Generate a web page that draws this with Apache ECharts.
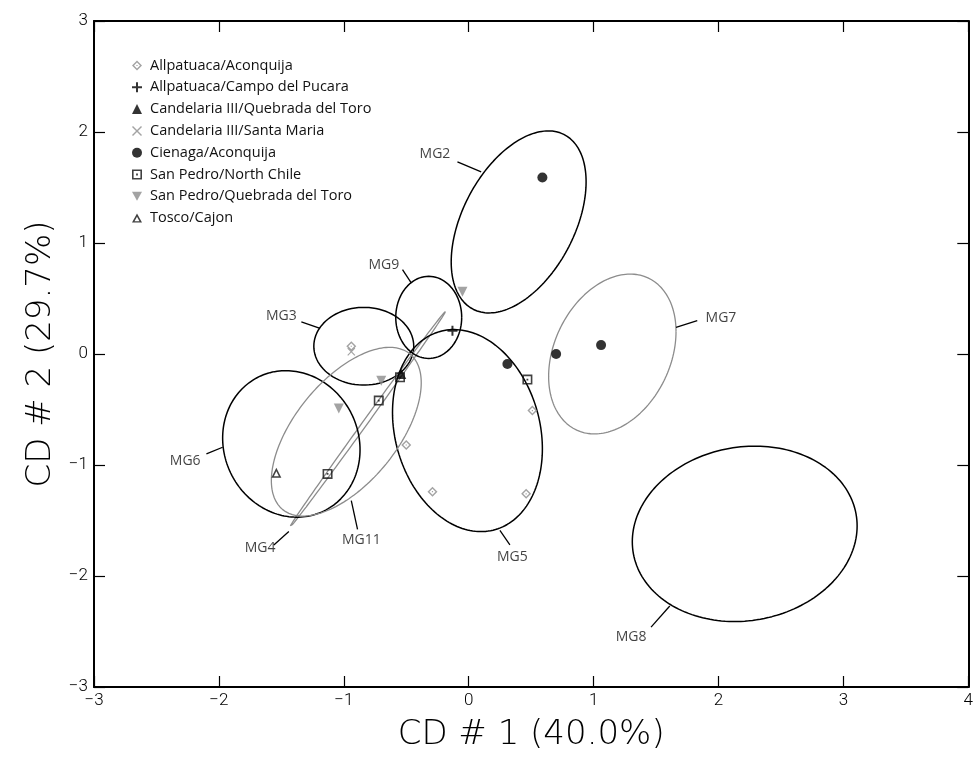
<!DOCTYPE html>
<html>
<head>
<meta charset="utf-8">
<script src="https://cdn.jsdelivr.net/npm/echarts@6/dist/echarts.min.js"></script>
<style>
  html, body { margin: 0; padding: 0; background: #fff; }
  #chart { width: 976px; height: 757px; }
</style>
</head>
<body>
<div id="chart"></div>
<script>
// group scores [CD1, CD2]
const allpatuacaAconquija = [[-0.94, 0.07], [0.51, -0.51], [-0.50, -0.82], [-0.29, -1.24], [0.46, -1.26]];
const allpatuacaPucara = [[-0.13, 0.21]];
const candelariaToro = [[-0.54, -0.18]];
const candelariaSantaMaria = [[-0.94, 0.02]];
const cienagaAconquija = [[0.59, 1.59], [0.31, -0.09], [0.70, 0.00], [1.06, 0.08]];
const sanPedroChile = [[-1.13, -1.08], [-0.72, -0.42], [-0.55, -0.21], [0.47, -0.23]];
const sanPedroToro = [[-1.04, -0.49], [-0.70, -0.24], [-0.05, 0.56]];
const toscoCajon = [[-1.54, -1.07]];

const groupNames = [
    'Allpatuaca/Aconquija',
    'Allpatuaca/Campo del Pucara',
    'Candelaria III/Quebrada del Toro',
    'Candelaria III/Santa Maria',
    'Cienaga/Aconquija',
    'San Pedro/North Chile',
    'San Pedro/Quebrada del Toro',
    'Tosco/Cajon'
];

// ellipses: centre, half extents on each axis, correlation
const ellipseNames = ['MG2', 'MG3', 'MG4', 'MG5', 'MG6', 'MG7', 'MG8', 'MG9', 'MG11'];
const ellipseCx = [0.40, -0.84, -0.81, -0.01, -1.42, 1.15, 2.21, -0.32, -0.98];
const ellipseCy = [1.19, 0.07, -0.59, -0.69, -0.81, 0.00, -1.62, 0.33, -0.70];
const ellipseW = [0.54, 0.40, 0.624, 0.60, 0.55, 0.51, 0.90, 0.264, 0.60];
const ellipseH = [0.82, 0.35, 0.973, 0.91, 0.66, 0.72, 0.79, 0.37, 0.76];
const ellipseR = [0.44, 0.0, 0.9993, -0.18, -0.08, 0.28, 0.09, 0.0, 0.58];
const ellipseGrey = [false, false, true, false, false, true, false, false, true];

// label text position and leader line (from, to)
const labelPos = [[-0.27, 1.80], [-1.50, 0.34], [-1.67, -1.75], [0.35, -1.83], [-2.27, -0.96], [2.02, 0.32], [1.30, -2.55], [-0.68, 0.80], [-0.86, -1.68]];
const leaderFrom = [[-0.09, 1.73], [-1.34, 0.29], [-1.56, -1.72], [0.33, -1.72], [-2.10, -0.90], [1.83, 0.30], [1.46, -2.46], [-0.53, 0.76], [-0.89, -1.58]];
const leaderTo = [[0.10, 1.64], [-1.19, 0.23], [-1.44, -1.60], [0.25, -1.59], [-1.97, -0.84], [1.66, 0.24], [1.61, -2.27], [-0.46, 0.64], [-0.94, -1.32]];

const GREY = '#8c8c8c';

const SYM_DIAMOND = 'path://M5,0L10,5L5,10L0,5Z M5,2L2,5L5,8L8,5Z M4.4,4.4L4.4,5.6L5.6,5.6L5.6,4.4Z';
const SYM_PLUS = 'path://M4,0H6V4H10V6H6V10H4V6H0V4H4Z';
const SYM_X = 'path://M0,1L1,0L5,4L9,0L10,1L6,5L10,9L9,10L5,6L1,10L0,9L4,5Z';
const SYM_SQUARE = 'path://M0,0H10V10H0Z M1.6,1.6V8.4H8.4V1.6Z M4.1,4.1H5.9V5.9H4.1Z';
const SYM_DOWN = 'path://M0,0H10L5,9Z';
const SYM_TRI_OPEN = 'path://M5,0L10,9L0,9Z M5,3.2L2.5,7.6L7.5,7.6Z';

function ellipsePoints(i) {
    let pts = [];
    let s = Math.sqrt(1 - ellipseR[i] * ellipseR[i]);
    for (let d = 0; d <= 360; d += 2) {
        let t = d * Math.PI / 180;
        pts.push([
            ellipseCx[i] + ellipseW[i] * Math.cos(t),
            ellipseCy[i] + ellipseH[i] * (ellipseR[i] * Math.cos(t) + s * Math.sin(t))
        ]);
    }
    return pts;
}

const minus = v => String(v).replace('-', '\u2212');

const tickFont = { fontFamily: 'Roboto', fontWeight: 300, color: '#000' };
const titleFont = { fontFamily: "'DejaVu Sans ExtraLight', 'DejaVu Sans Light', Roboto", fontWeight: 200, color: '#000', fontSize: 34 };

let chart = echarts.init(document.getElementById('chart'), null, { renderer: 'canvas' });

let series = [];

// ellipses and their leader lines
for (let i = 0; i < ellipseNames.length; i++) {
    series.push({
        name: ellipseNames[i],
        type: 'line',
        data: ellipsePoints(i),
        showSymbol: false,
        silent: true,
        z: 1,
        lineStyle: { color: ellipseGrey[i] ? GREY : '#000', width: ellipseGrey[i] ? 1.3 : 1.5 }
    });
    series.push({
        type: 'line',
        data: [leaderFrom[i], leaderTo[i]],
        showSymbol: false,
        silent: true,
        z: 1,
        lineStyle: { color: '#000', width: 1.3 }
    });
}

// ellipse labels
series.push({
    type: 'scatter',
    symbolSize: 0,
    silent: true,
    data: ellipseNames.map((n, i) => ({ name: n, value: labelPos[i] })),
    label: {
        show: true,
        position: 'inside',
        formatter: '{b}',
        fontFamily: 'Open Sans',
        fontSize: 14,
        color: '#111'
    }
});

// points
const pointSets = [allpatuacaAconquija, allpatuacaPucara, candelariaToro, candelariaSantaMaria,
    cienagaAconquija, sanPedroChile, sanPedroToro, toscoCajon];
const pointSymbols = [SYM_DIAMOND, SYM_PLUS, 'triangle', SYM_X, 'circle', SYM_SQUARE, SYM_DOWN, SYM_TRI_OPEN];
const pointColors = [GREY, '#000', '#000', GREY, '#000', '#111', GREY, '#111'];
const pointSizes = [10, 10, 10, 8, 10, 10, 10, 10];

for (let i = 0; i < groupNames.length; i++) {
    series.push({
        name: groupNames[i],
        type: 'scatter',
        data: pointSets[i],
        symbol: pointSymbols[i],
        symbolSize: pointSizes[i],
        itemStyle: { color: pointColors[i] },
        z: 5
    });
}

function makeX(pos, showLabel) {
    return {
        type: 'value',
        position: pos,
        min: -3,
        max: 4,
        interval: 1,
        axisLine: { show: true, onZero: false, lineStyle: { color: '#000', width: 2 } },
        axisTick: { show: true, inside: true, length: 11, lineStyle: { color: '#000', width: 1.2 } },
        axisLabel: Object.assign({ show: showLabel, fontSize: 17, margin: 5, formatter: minus }, tickFont),
        splitLine: { show: false }
    };
}

function makeY(pos, showLabel) {
    return {
        type: 'value',
        position: pos,
        min: -3,
        max: 3,
        interval: 1,
        axisLine: { show: true, onZero: false, lineStyle: { color: '#000', width: 2 } },
        axisTick: { show: true, inside: true, length: 11, lineStyle: { color: '#000', width: 1.2 } },
        axisLabel: Object.assign({ show: showLabel, fontSize: 17, margin: 6, formatter: minus }, tickFont),
        splitLine: { show: false }
    };
}

let xMain = makeX('bottom', true);
xMain.name = 'CD # 1 (40.0%)';
xMain.nameLocation = 'middle';
xMain.nameGap = 31;
xMain.nameTextStyle = titleFont;

let yMain = makeY('left', true);
yMain.name = 'CD # 2 (29.7%)';
yMain.nameLocation = 'middle';
yMain.nameGap = 36;
yMain.nameTextStyle = titleFont;

let option = {
    backgroundColor: '#fff',
    animation: false,
    grid: { left: 94, right: 7, top: 21, bottom: 67 },
    xAxis: [xMain, makeX('top', false)],
    yAxis: [yMain, makeY('right', false)],
    legend: {
        data: groupNames,
        orient: 'vertical',
        left: 127,
        top: 53,
        itemWidth: 10,
        itemHeight: 10,
        itemGap: 6.8,
        selectedMode: false,
        textStyle: { fontFamily: 'Open Sans', fontSize: 14.5, color: '#111', padding: [0, 0, 0, 3] }
    },
    series: series
};

chart.setOption(option);
</script>
</body>
</html>
